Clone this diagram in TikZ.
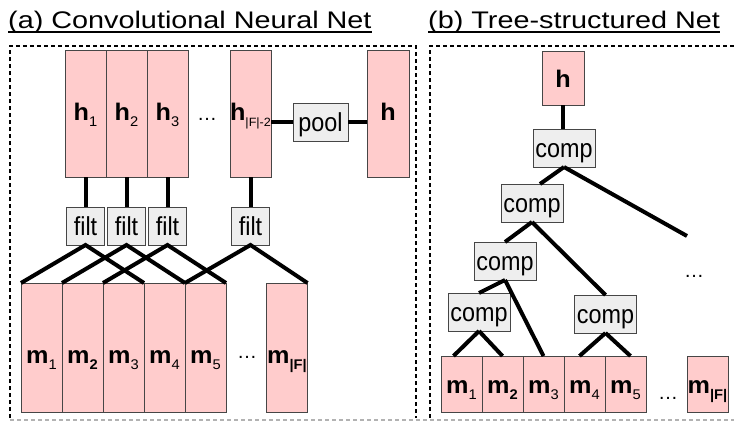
\documentclass[tikz,border=0pt]{standalone}
\usepackage{fontspec}
\setmainfont{Liberation Sans}
\newfontfamily\titlefont{Liberation Sans}[FakeStretch=1.2]
\newfontfamily\opfont{Liberation Sans}[FakeStretch=0.9]
\newfontfamily\cellfont{Liberation Sans}[FakeStretch=1.05]
\usetikzlibrary{positioning}
\definecolor{cellpink}{RGB}{255,204,204}
\definecolor{opgray}{RGB}{238,238,238}
\definecolor{rimgray}{RGB}{70,70,70}
\newcommand{\lsub}[2][14]{\raisebox{-6pt}{\fontsize{#1}{#1}\selectfont\mdseries #2}}

\begin{document}
\begin{tikzpicture}[x=1pt,y=-1pt,
        title/.style={anchor=base west, inner sep=0pt, font=\titlefont\fontsize{24}{24}\selectfont},
        cell/.style={draw=rimgray, fill=cellpink, line width=0.8pt, inner sep=0pt, outer sep=0pt,
            minimum width=41pt, text depth=0pt, font=\cellfont\fontsize{24}{24}\selectfont\bfseries},
        hcell/.style={cell, minimum height=127pt, text height=13pt},
        mcell/.style={cell, minimum height=129pt, text height=31pt},
        leaf/.style={cell, minimum height=56pt, text height=18pt},
        op/.style={draw=rimgray, fill=opgray, line width=0.8pt, inner sep=0pt, outer sep=0pt,
            minimum height=38pt, text height=19pt, text depth=0pt, font=\opfont\fontsize{26}{26}\selectfont},
        dots/.style={inner sep=0pt, font=\fontsize{20}{20}\selectfont},
        wire/.style={line width=4pt},
        frame/.style={line width=2pt, dash pattern=on 4pt off 3pt}]
    \useasboundingbox (0,0) rectangle (734,421);

    % titles
    \node[title] (ta) at (8,28) {(a) Convolutional Neural Net};
    \node[title] (tb) at (428,28) {(b) Tree-structured Net};
    \draw[line width=1.2pt] ([yshift=-4pt]ta.base west) -- ([yshift=-4pt]ta.base east);
    \draw[line width=1.2pt] ([yshift=-4pt]tb.base west) -- ([yshift=-4pt]tb.base east);

    % frames
    \draw[frame] (10,418) -- (10,46) -- (416,46) -- (416,418);
    \draw[frame] (430,418) -- (430,46) -- (734,46);
    \draw[gray!60, line width=1.2pt, dash pattern=on 4pt off 3pt] (10,420) -- (734,420);

    % (a) convolution
    \node[hcell] (h1) at (85.5,113.5) {h\lsub{1}};
    \node[hcell, right=0pt of h1] (h2) {h\lsub{2}};
    \node[hcell, right=0pt of h2] (h3) {h\lsub{3}};
    \node[dots] (hdots) at (207,119) {…};
    \node[hcell] (hk) at (250.5,113.5) {h\lsub[12]{|F|-2}};
    \node[op, minimum width=55pt] (pool) at (320.5,122) {pool};
    \node[hcell, minimum width=42pt] (hout) at (388,113.5) {h};
    \draw[wire] (hk.east |- pool.west) -- (pool.west);
    \draw[wire] (pool.east) -- (hout.west |- pool.east);

    \node[op, minimum width=38pt, below=30pt of h1] (f1) {filt};
    \node[op, minimum width=38pt, below=30pt of h2] (f2) {filt};
    \node[op, minimum width=38pt, below=30pt of h3] (f3) {filt};
    \node[op, minimum width=38pt, below=30pt of hk] (f4) {filt};
    \draw[wire] (h1) -- (f1);
    \draw[wire] (h2) -- (f2);
    \draw[wire] (h3) -- (f3);
    \draw[wire] (hk) -- (f4);

    \node[mcell] (m1) at (41.5,347.5) {m\lsub{1}};
    \node[mcell, right=0pt of m1] (m2) {m\lsub{\textbf{2}}};
    \node[mcell, right=0pt of m2] (m3) {m\lsub{3}};
    \node[mcell, right=0pt of m3] (m4) {m\lsub{4}};
    \node[mcell, right=0pt of m4] (m5) {m\lsub{5}};
    \node[dots] (mdots) at (247,357) {…};
    \node[mcell] (mF) at (287,347.5) {m\lsub{\textbf{|F|}}};

    \draw[wire] (m1.north west) -- (f1.south) -- (m3.north east);
    \draw[wire] (m2.north west) -- (f2.south) -- (m4.north east);
    \draw[wire] (m3.north west) -- (f3.south) -- (m5.north east);
    \draw[wire] (m4.north east) -- (f4.south) -- (mF.north east);

    % (b) tree
    \node[cell, minimum width=42pt, minimum height=54pt, text height=18pt] (th) at (563,78) {h};
    \node[op, minimum width=62pt] (c1) at (564,148) {comp};
    \node[op, minimum width=62pt] (c2) at (532,203) {comp};
    \node[op, minimum width=62pt] (c3) at (505,261) {comp};
    \node[op, minimum width=62pt] (c4) at (479,312) {comp};
    \node[op, minimum width=62pt] (c5) at (605.5,314) {comp};
    \coordinate (open) at (687,236);
    \node[dots] (tdots) at (694,276) {…};

    \node[leaf] (n1) at (461.5,384) {m\lsub{1}};
    \node[leaf, right=0pt of n1] (n2) {m\lsub{\textbf{2}}};
    \node[leaf, right=0pt of n2] (n3) {m\lsub{3}};
    \node[leaf, right=0pt of n3] (n4) {m\lsub{4}};
    \node[leaf, right=0pt of n4] (n5) {m\lsub{5}};
    \node[dots] (ndots) at (668,398) {…};
    \node[leaf] (nF) at (707.5,384) {m\lsub{\textbf{|F|}}};

    \draw[wire] (th.south) -- (th.south |- c1.north);
    \draw[wire] (c1.south) -- ([xshift=8pt]c2.north);
    \draw[wire] (c1.south) -- (open);
    \draw[wire] (c2.south) -- (c3.north);
    \draw[wire] (c2.south) -- (c5.north);
    \draw[wire] (c3.south) -- (c4.north);
    \draw[wire] (c3.south) -- (n3.north);
    \draw[wire] (c4.south) -- ([xshift=-8pt]n1.north);
    \draw[wire] (c4.south) -- (n2.north);
    \draw[wire] (c5.south) -- ([xshift=-5pt]n4.north);
    \draw[wire] (c5.south) -- ([xshift=5pt]n5.north);
\end{tikzpicture}
\end{document}
